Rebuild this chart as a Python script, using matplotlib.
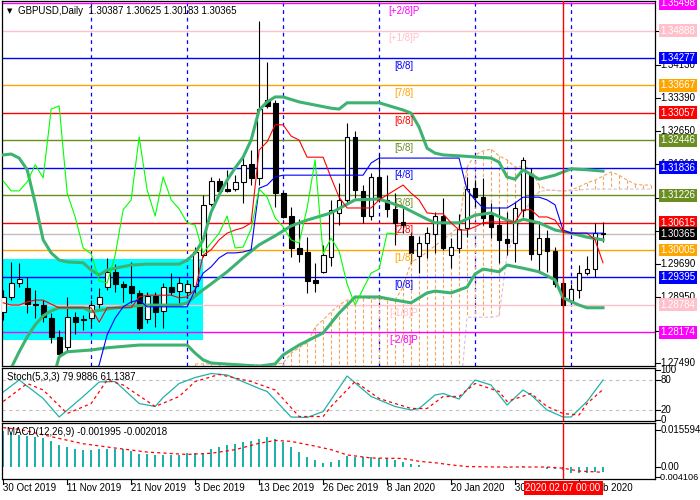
import matplotlib
matplotlib.use("Agg")
import matplotlib.pyplot as plt
from matplotlib.patches import Rectangle
import numpy as np
import pandas as pd

plt.rcParams["font.family"] = ["Liberation Sans", "DejaVu Sans"]
plt.rcParams["font.size"] = 7

# ---- GBPUSD daily candles, 30 Oct 2019 .. 14 Feb 2020 ----
opens = [1.2863, 1.2896, 1.2927, 1.2916, 1.2880, 1.2878, 1.2849, 1.2807, 1.2785, 1.2852,
         1.2847, 1.2849, 1.2880, 1.2918, 1.2952, 1.2925, 1.2920, 1.2905, 1.2847, 1.2898,
         1.2865, 1.2918, 1.2909, 1.2907, 1.2920, 1.2989, 1.3103, 1.3154, 1.3136, 1.3136,
         1.3152, 1.3192, 1.3161, 1.3334, 1.3328, 1.3127, 1.3076, 1.3005, 1.2996, 1.2934,
         1.2952, 1.2985, 1.3083, 1.3112, 1.3252, 1.3132, 1.3076, 1.3163, 1.3112, 1.3092,
         1.3063, 1.3032, 1.2987, 1.3016, 1.3036, 1.3076, 1.2989, 1.3005, 1.3050, 1.3138,
         1.3118, 1.3078, 1.3056, 1.3025, 1.3016, 1.3090, 1.3167, 1.2992, 1.3027, 1.2998,
         1.2927, 1.2887, 1.2912, 1.2949, 1.2958, 1.30387]
highs = [1.2912, 1.2974, 1.2972, 1.2940, 1.2912, 1.2889, 1.2860, 1.2823, 1.2896, 1.2863,
         1.2856, 1.2889, 1.2916, 1.2983, 1.2969, 1.2932, 1.2974, 1.2912, 1.2907, 1.2907,
         1.2927, 1.2949, 1.2940, 1.2934, 1.3007, 1.3123, 1.3163, 1.3161, 1.3179, 1.3167,
         1.3210, 1.3223, 1.3510, 1.3419, 1.3334, 1.3130, 1.3096, 1.3069, 1.3029, 1.2972,
         1.3012, 1.3112, 1.3150, 1.3283, 1.3265, 1.3145, 1.3172, 1.3214, 1.3167, 1.3127,
         1.3094, 1.3041, 1.3032, 1.3052, 1.3085, 1.3116, 1.3027, 1.3081, 1.3163, 1.3156,
         1.3161, 1.3105, 1.3096, 1.3085, 1.3107, 1.3207, 1.3183, 1.3065, 1.3045, 1.3007,
         1.2934, 1.2925, 1.2967, 1.2987, 1.3061, 1.30625]
lows = [1.2845, 1.2889, 1.2918, 1.2860, 1.2849, 1.2840, 1.2794, 1.2760, 1.2774, 1.2814,
        1.2823, 1.2829, 1.2872, 1.2912, 1.2907, 1.2885, 1.2883, 1.2823, 1.2838, 1.2829,
        1.2827, 1.2900, 1.2883, 1.2896, 1.2905, 1.2985, 1.3098, 1.3123, 1.3130, 1.3132,
        1.3105, 1.3145, 1.3145, 1.3316, 1.3096, 1.3072, 1.2985, 1.2974, 1.2905, 1.2907,
        1.2949, 1.2965, 1.3056, 1.3105, 1.3116, 1.3061, 1.3067, 1.3107, 1.3074, 1.3012,
        1.3038, 1.2972, 1.2949, 1.2983, 1.2994, 1.3001, 1.2960, 1.2994, 1.3029, 1.3096,
        1.3056, 1.3027, 1.2972, 1.2989, 1.2974, 1.3074, 1.2978, 1.2949, 1.2952, 1.2918,
        1.2874, 1.2883, 1.2894, 1.2945, 1.2940, 1.30183]
closes = [1.2896, 1.2927, 1.2936, 1.2880, 1.2878, 1.2852, 1.2807, 1.2769, 1.2852, 1.2840,
          1.2845, 1.2878, 1.2896, 1.2952, 1.2925, 1.2918, 1.2905, 1.2827, 1.2898, 1.2863,
          1.2918, 1.2907, 1.2927, 1.2925, 1.2996, 1.3101, 1.3154, 1.3132, 1.3132, 1.3152,
          1.3190, 1.3161, 1.3314, 1.3321, 1.3127, 1.3074, 1.3005, 1.2992, 1.2932, 1.2927,
          1.2989, 1.3090, 1.3112, 1.3252, 1.3134, 1.3076, 1.3163, 1.3112, 1.3092, 1.3061,
          1.3056, 1.2994, 1.3016, 1.3038, 1.3076, 1.3005, 1.3007, 1.3047, 1.3136, 1.3118,
          1.3072, 1.3052, 1.3023, 1.3016, 1.3094, 1.3201, 1.2992, 1.3027, 1.2998, 1.2925,
          1.2878, 1.2914, 1.2949, 1.2958, 1.3038, 1.30365]

# Bollinger bands (thick green), read at bar indices
bb_up_idx = [0, 1, 2, 3, 4, 5, 6, 7, 8, 10, 11, 12, 13, 14, 16, 18, 22, 23, 24, 25, 26, 27, 28, 29,
             30, 31, 32, 33, 34, 35, 37, 41, 42, 43, 47, 50, 51, 52, 53, 54, 55, 57, 61, 62, 63,
             64, 65, 67, 69, 71, 73, 75]
bb_up = [1.3212, 1.3214, 1.3205, 1.3179, 1.3105, 1.3023, 1.2994, 1.2978, 1.2974, 1.2972, 1.2956,
         1.2945, 1.2956, 1.2960, 1.2967, 1.2969, 1.2969, 1.2978, 1.2994, 1.3023, 1.3085, 1.3123,
         1.3156, 1.3183, 1.3207, 1.3245, 1.3312, 1.3330, 1.3341, 1.3341, 1.3330, 1.3316, 1.3314,
         1.3328, 1.3328, 1.3312, 1.3305, 1.3274, 1.3227, 1.3216, 1.3212, 1.3210, 1.3205, 1.3196,
         1.3163, 1.3158, 1.3179, 1.3158, 1.3167, 1.3181, 1.3179, 1.3176]
bb_mid_idx = [0, 1, 2, 3, 4, 5, 6, 7, 10, 11, 13, 15, 18, 22, 23, 24, 25, 26, 28, 30, 32, 34, 36,
              38, 41, 44, 47, 50, 52, 53, 54, 57, 59, 61, 63, 64, 65, 67, 69, 71, 73, 75]
bb_mid = [1.2700, 1.2738, 1.2774, 1.2807, 1.2834, 1.2854, 1.2865, 1.2872, 1.2872, 1.2863, 1.2869,
          1.2874, 1.2878, 1.2878, 1.2883, 1.2898, 1.2912, 1.2925, 1.2952, 1.2983, 1.3012, 1.3032,
          1.3054, 1.3067, 1.3083, 1.3112, 1.3114, 1.3096, 1.3078, 1.3069, 1.3061, 1.3061, 1.3078,
          1.3083, 1.3067, 1.3061, 1.3069, 1.3061, 1.3045, 1.3038, 1.3029, 1.3023]
bb_low_idx = [5, 6, 7, 8, 11, 13, 17, 23, 24, 25, 26, 32, 34, 35, 37, 40, 42, 44, 47, 49, 51, 53,
              54, 56, 58, 59, 60, 62, 63, 65, 67, 69, 70, 72, 73, 75]
bb_low = [1.2640, 1.2700, 1.2763, 1.2774, 1.2778, 1.2783, 1.2789, 1.2789, 1.2771, 1.2756, 1.2749,
          1.2742, 1.2747, 1.2767, 1.2789, 1.2816, 1.2860, 1.2896, 1.2896, 1.2889, 1.2883, 1.2905,
          1.2909, 1.2905, 1.2918, 1.2947, 1.2958, 1.2952, 1.2967, 1.2960, 1.2952, 1.2934, 1.2894,
          1.2878, 1.2872, 1.2872]

# Ichimoku: tenkan (red, all bars), kijun (blue, from bar 11)
tenkan = [1.2883, 1.2878, 1.2878, 1.2885, 1.2889, 1.2889, 1.2880, 1.2872, 1.2872, 1.2872,
          1.2872, 1.2872, 1.2840, 1.2872, 1.2872, 1.2872, 1.2872, 1.2896, 1.2900, 1.2900,
          1.2900, 1.2900, 1.2894, 1.2896, 1.2912, 1.2989, 1.3001, 1.3023, 1.3038, 1.3045,
          1.3050, 1.3061, 1.3223, 1.3241, 1.3279, 1.3279, 1.3254, 1.3245, 1.3207, 1.3207,
          1.3207, 1.3161, 1.3118, 1.3094, 1.3094, 1.3094, 1.3094, 1.3112, 1.3123, 1.3134,
          1.3145, 1.3127, 1.3112, 1.3083, 1.3081, 1.3081, 1.3061, 1.3045, 1.3045, 1.3052,
          1.3061, 1.3063, 1.3063, 1.3063, 1.3063, 1.3090, 1.3090, 1.3074, 1.3074, 1.3067,
          1.3041, 1.3038, 1.3038, 1.3038, 1.3023, 1.2972]
kijun_start = 11
kijun = [1.2711, 1.2745, 1.2812, 1.2849, 1.2874, 1.2885, 1.2889, 1.2874, 1.2874, 1.2874,
         1.2874, 1.2874, 1.2874, 1.2912, 1.2949, 1.2963, 1.2983, 1.2994, 1.2994, 1.2996,
         1.3001, 1.3138, 1.3145, 1.3163, 1.3167, 1.3167, 1.3167, 1.3167, 1.3167, 1.3167,
         1.3167, 1.3167, 1.3167, 1.3167, 1.3167, 1.3194, 1.3205, 1.3205, 1.3205, 1.3205,
         1.3205, 1.3205, 1.3205, 1.3205, 1.3205, 1.3205, 1.3205, 1.3134, 1.3112, 1.3094,
         1.3094, 1.3094, 1.3094, 1.3105, 1.3118, 1.3118, 1.3118, 1.3112, 1.3101, 1.3045,
         1.3038, 1.3038, 1.3038, 1.3038, 1.3038]
chikou_shift = 26
cloud_start = 24
span_a = [1.2747, 1.2747, 1.2747, 1.2747, 1.2747, 1.2747, 1.2746, 1.2745, 1.2745, 1.2745,
          1.2747, 1.2749, 1.2771, 1.2783, 1.2794, 1.2829, 1.2845, 1.2863, 1.2878, 1.2889,
          1.2894, 1.2894, 1.2892, 1.2891, 1.2890, 1.2889, 1.2918, 1.2974, 1.2983, 1.2996,
          1.3010, 1.3023, 1.3038, 1.3052, 1.3185, 1.3212, 1.3221, 1.3225, 1.3210, 1.3201,
          1.3185, 1.3187, 1.3181, 1.3145, 1.3134, 1.3133, 1.3132, 1.3134, 1.3141, 1.3150,
          1.3156, 1.3165, 1.3174, 1.3167, 1.3156, 1.3147, 1.3145, 1.3145]
span_b = [1.2650] * 34 + [1.2851, 1.2851, 1.2851, 1.2851, 1.2854, 1.2989, 1.3041, 1.3078,
                          1.3112, 1.3130, 1.3134, 1.3133, 1.3132, 1.3132, 1.3134, 1.3136,
                          1.3136, 1.3136, 1.3136, 1.3136, 1.3136, 1.3136, 1.3136, 1.3136]

# Murrey math lines
mm_levels = [1.35498, 1.34888, 1.34277, 1.33667, 1.33057, 1.32446, 1.31836,
             1.31226, 1.30615, 1.30005, 1.29395, 1.28784, 1.28174]
mm_names = ["[+2/8]P", "[+1/8]P", "[8/8]", "[7/8]", "[6/8]", "[5/8]", "[4/8]",
            "[3/8]", "[2/8]", "[1/8]", "[0/8]", "[-1/8]P", "[-2/8]P"]
mm_colors = ["#FF00FF", "#FFC0CB", "#0000FF", "#FFA500", "#FF0000", "#6B8E23", "#0000FF",
             "#6B8E23", "#FF0000", "#FFA500", "#0000FF", "#FFC0CB", "#FF00FF"]
last_price = 1.30365
price_ticks = [1.27490, 1.28210, 1.28950, 1.29690, 1.30430, 1.31170, 1.31910,
               1.32650, 1.33390, 1.34130, 1.34870]

# Stochastic(5,3,3)
stoch_k_idx = [0, 2, 5, 7, 10, 12, 14, 17, 19, 20, 22, 24, 26, 28, 32, 33, 36, 38, 40, 43,
               46, 49, 51, 52, 54, 55, 57, 59, 61, 63, 65, 66, 68, 70, 71, 73, 75]
stoch_k = [56, 80, 43, 6, 47, 76, 77, 33, 27, 45, 73, 85, 93, 90, 63, 57, 6, 5, 17, 88,
           47, 27, 20, 23, 50, 53, 42, 80, 70, 30, 60, 50, 20, 6, 6, 37, 79.99]
stoch_d_idx = [0, 3, 5, 8, 11, 13, 15, 19, 22, 24, 27, 31, 34, 37, 40, 41, 44, 47, 51, 53,
               55, 57, 59, 62, 63, 66, 68, 70, 72, 73, 75]
stoch_d = [37, 73, 60, 13, 33, 80, 70, 27, 47, 77, 91, 77, 60, 7, 7, 27, 77, 43, 23, 23,
           47, 47, 73, 57, 37, 53, 27, 13, 10, 33, 61.14]

# MACD(12,26,9)
macd_hist = [0.0153, 0.0146, 0.0139, 0.0132, 0.0129, 0.0124, 0.0111, 0.0093, 0.0087, 0.0076,
             0.0073, 0.0073, 0.0076, 0.0076, 0.0076, 0.0076, 0.0069, 0.0058, 0.0058, 0.0051,
             0.0051, 0.0051, 0.0051, 0.0059, 0.0059, 0.0059, 0.0079, 0.0087, 0.0096, 0.0101,
             0.0107, 0.0112, 0.0121, 0.0129, 0.0121, 0.0107, 0.0087, 0.0067, 0.0045, 0.0031,
             0.0020, 0.0025, 0.0031, 0.0048, 0.0046, 0.0043, 0.0043, 0.0039, 0.0039, 0.0032,
             0.0024, 0.0015, 0.0011, 0.0003, 0.0003, 0.0002, 0.0001, 0.0000, 0.0000, 0.0003,
             0.0002, 0.0002, 0.0000, -0.0001, 0.0004, 0.0006, 0.0004, 0.0001, -0.0006, -0.0008,
             -0.0010, -0.0022, -0.0024, -0.0022, -0.0019, -0.001995]
macd_sig_idx = [0, 2, 6, 10, 14, 18, 23, 26, 29, 32, 34, 36, 39, 41, 43, 46, 50, 52, 54, 56,
                58, 62, 68, 70, 72, 75]
macd_sig = [0.0168, 0.0161, 0.0130, 0.0100, 0.0082, 0.0065, 0.0055, 0.0060, 0.0075, 0.0102,
            0.0114, 0.0110, 0.0090, 0.0075, 0.0053, 0.0040, 0.0038, 0.0026, 0.0020, 0.0011,
            0.0004, 0.0002, 0.0002, -0.0003, -0.0015, -0.002018]

# drawn objects
sep_idx = [11, 23, 35, 47, 59, 71]
marker_idx = 70
box_x = (-0.3, 25.0)
box_y = (1.2800, 1.2980)

dates = pd.bdate_range("2019-10-30", "2020-02-14")
dates = dates[~dates.isin(pd.to_datetime(["2019-12-25", "2020-01-01"]))]
n = len(dates)
x = np.arange(n)

W, H = 700.0, 500.0
fig = plt.figure(figsize=(7, 5), dpi=100)


def panel(top, bottom):
    a = fig.add_axes([2 / W, 1 - bottom / H, 653 / W, (bottom - top) / H])
    a.set_xlim(-0.15, 81.5)
    a.set_xticks([])
    a.set_yticks([])
    for s in a.spines.values():
        s.set_linewidth(0.9)
    return a


def right_text(a, y, text, fc=None, xpos=1.008, size=7):
    kw = dict(transform=a.get_yaxis_transform(), va="center", ha="left", fontsize=size,
              clip_on=False, zorder=10, color="white" if fc else "black")
    if fc:
        kw["bbox"] = dict(boxstyle="square,pad=0.15", fc=fc, ec="none")
    a.text(xpos, y, text, **kw)


def right_tick(a, y):
    a.plot([1.0, 1.007], [y, y], transform=a.get_yaxis_transform(), color="black",
           lw=0.8, clip_on=False)


ax = panel(1, 366)
ax_st = panel(368, 421)
ax_md = panel(423, 479)

# ---- main chart ----
ax.set_ylim(1.27424, 1.35545)
ax.add_patch(Rectangle((box_x[0], box_y[0]), box_x[1] - box_x[0], box_y[1] - box_y[0],
                       fc="#00FFFF", ec="none", zorder=0))
for s in sep_idx:
    ax.axvline(s, color="blue", lw=0.9, ls=(0, (3, 3)), zorder=1)

cx = np.arange(cloud_start, cloud_start + len(span_a))
for xi, a, b in zip(cx, span_a, span_b):
    ax.plot([xi, xi], [a, b], color="#F4A460" if a >= b else "#D8BFD8",
            lw=0.8, ls=(0, (3, 2)), zorder=1)
ax.plot(cx, span_a, color="#F4A460", lw=0.8, ls=(0, (3, 2)), zorder=1)
ax.plot(cx, span_b, color="#D8BFD8", lw=0.8, ls=(0, (3, 2)), zorder=1)

o = np.array(opens)
c = np.array(closes)
up = c >= o
ax.vlines(x, lows, highs, color="black", lw=0.8, zorder=3)
ax.bar(x, np.maximum(np.abs(c - o), 0.00002), bottom=np.minimum(o, c), width=0.6,
       color=np.where(up, "white", "black"), edgecolor="black", lw=0.8, zorder=3)

for lv, col in zip(mm_levels, mm_colors):
    ax.axhline(lv, color=col, lw=1.0, zorder=2.5)
ax.axhline(last_price, color="#C0C0C0", lw=1.0, zorder=2.5)

ax.plot(bb_up_idx, bb_up, color="#3CB371", lw=2.2, zorder=4)
ax.plot(bb_mid_idx, bb_mid, color="#3CB371", lw=2.2, zorder=4)
ax.plot(bb_low_idx, bb_low, color="#3CB371", lw=2.2, zorder=4)
ax.plot(x, tenkan, color="red", lw=0.8, zorder=4)
ax.plot(np.arange(kijun_start, kijun_start + len(kijun)), kijun, color="blue", lw=0.8, zorder=4)
ax.plot(x[:n - chikou_shift], closes[chikou_shift:], color="#00FF00", lw=0.8, zorder=4)

for lv, name, col in zip(mm_levels, mm_names, mm_colors):
    ax.annotate(name, (0.6155, lv), xycoords=("axes fraction", "data"),
                xytext=(0, -2), textcoords="offset points", ha="center", va="top",
                color=col, fontsize=7, zorder=5)

for t in price_ticks:
    right_tick(ax, t)
    right_text(ax, t, f"{t:.5f}")
for lv, col in zip(mm_levels, mm_colors):
    right_text(ax, lv, f"{lv:.5f}", fc=col)
right_text(ax, last_price, f"{last_price:.5f}", fc="black")

fig.text(7 / W, 1 - 11 / H, "\u25bc", fontsize=5, va="center", family="DejaVu Sans")
fig.text(18 / W, 1 - 11 / H, "GBPUSD,Daily  1.30387 1.30625 1.30183 1.30365",
         fontsize=7, va="center")

# ---- stochastic ----
ax_st.set_ylim(-2, 104)
for lv in (80, 20):
    ax_st.axhline(lv, color="#C0C0C0", lw=0.8, ls=(0, (3, 3)))
ax_st.plot(stoch_k_idx, stoch_k, color="#20B2AA", lw=0.9)
ax_st.plot(stoch_d_idx, stoch_d, color="red", lw=0.9, ls=(0, (2.5, 2.5)))
for lv in (100, 80, 20, 0):
    right_tick(ax_st, lv)
    right_text(ax_st, lv, str(lv))
fig.text(7 / W, 1 - 377 / H, "Stoch(5,3,3) 79.9886 61.1387", fontsize=7, va="center")

# ---- MACD ----
ax_md.set_ylim(-0.00485, 0.01875)
ax_md.bar(x, macd_hist, width=0.22, color="#20B2AA", zorder=2)
ax_md.plot(macd_sig_idx, macd_sig, color="red", lw=0.9, ls=(0, (2.5, 2.5)), zorder=3)
for lv, txt in ((0.015594, "0.015594"), (0.0, "0.00")):
    right_tick(ax_md, lv)
    right_text(ax_md, lv, txt)
right_tick(ax_md, -0.004106)
right_text(ax_md, -0.004106, "-0.004106", xpos=1.004, size=6.6)
fig.text(7 / W, 1 - 432 / H, "MACD(12,26,9) -0.001995 -0.002018", fontsize=7, va="center")

for a in (ax, ax_st, ax_md):
    a.axvline(marker_idx, color="red", lw=1.0, zorder=6)

# ---- date axis ----
for i in range(0, n, 8):
    d = dates[i]
    ax_md.plot([i, i], [0, -0.09], transform=ax_md.get_xaxis_transform(), color="black",
               lw=0.8, clip_on=False)
    ax_md.text(i, -0.16, f"{d.day} {d:%b %Y}", transform=ax_md.get_xaxis_transform(),
               ha="left", va="center", fontsize=7)
md = dates[marker_idx]
ax_md.text(marker_idx, -0.16, f"{md:%Y.%m.%d} 00:00", transform=ax_md.get_xaxis_transform(),
           ha="center", va="center", fontsize=7, color="white", zorder=10,
           bbox=dict(boxstyle="square,pad=0.2", fc="red", ec="none"))

fig.savefig("out.png", dpi=100)
